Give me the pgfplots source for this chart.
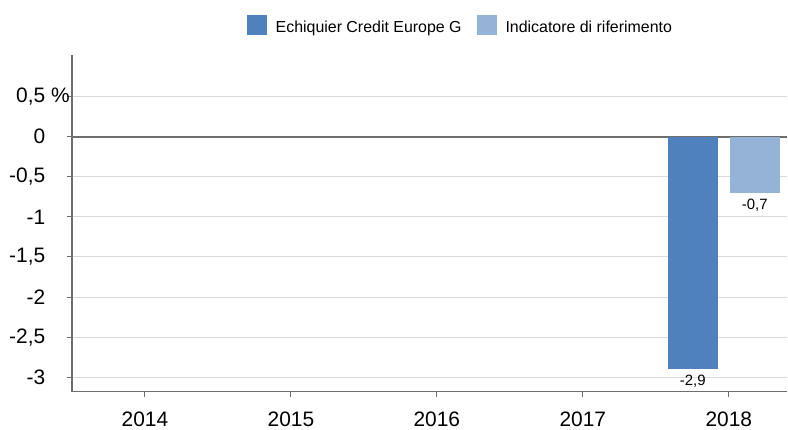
\documentclass[border=0pt]{standalone}
\usepackage{pgfplots}
\pgfplotsset{compat=1.18}
\usepackage{fontspec}
\setmainfont{Liberation Sans}
\definecolor{dark}{RGB}{79,129,189}
\definecolor{light}{RGB}{149,179,215}
\definecolor{gridc}{RGB}{217,217,217}
\definecolor{axisc}{RGB}{110,110,110}
\begin{document}
\begin{tikzpicture}
\begin{axis}[
  scale only axis,
  width=716bp, height=337bp,
  xmin=-0.5, xmax=4.4,
  ymin=-3.18, ymax=1.02,
  axis lines*=left,
  axis line style={axisc, line width=1.2bp},
  tick style={axisc, line width=1bp},
  tick align=outside,
  major tick length=5bp,
  xtick={0,1,2,3,4},
  xticklabels={2014,2015,2016,2017,2018},
  ytick={-3,-2.5,-2,-1.5,-1,-0.5,0,0.5},
  yticklabels={{-3},{-2,5},{-2},{-1,5},{-1},{-0,5},{0},{0,5\rlap{ \%}}},
  ticklabel style={font=\fontsize{21}{24}\selectfont, inner sep=0pt},
  yticklabel style={anchor=east, xshift=-21.5bp},
  xticklabel style={anchor=north, yshift=-15bp},
  ymajorgrids,
  major grid style={gridc, line width=1bp},
  extra y ticks={0},
  extra y tick labels={},
  extra y tick style={major tick length=0bp, major grid style={axisc, line width=1.6bp}},
  ybar,
  bar width=0.3425,
  legend columns=2,
  legend style={at={(0.2444,1.088)}, anchor=west, draw=none, fill=none,
    inner sep=0pt, outer sep=0pt,
    font=\fontsize{16}{19}\selectfont,
    nodes={inner sep=0pt, text depth=0pt},
    /tikz/every odd column/.style={column sep=9bp},
    /tikz/every even column/.style={column sep=15bp}},
  legend image code/.code={\fill[#1,draw=none] (0bp,-8.5bp) rectangle (20bp,11.5bp);},
  nodes near coords,
  point meta=explicit symbolic,
  every node near coord/.append style={font=\fontsize{15}{18}\selectfont, inner sep=0pt, anchor=north, yshift=-6bp, black},
]
\addplot[fill=dark, draw=none, bar shift=-0.2466] coordinates {(4,-2.9) [-2,9]};
\addplot[fill=light, draw=none, bar shift=0.178] coordinates {(4,-0.7) [-0,7]};
\legend{Echiquier Credit Europe G, Indicatore di riferimento}
\end{axis}
\path[use as bounding box] (-72bp,-38bp) rectangle (716bp,392bp);
\end{tikzpicture}
\end{document}
